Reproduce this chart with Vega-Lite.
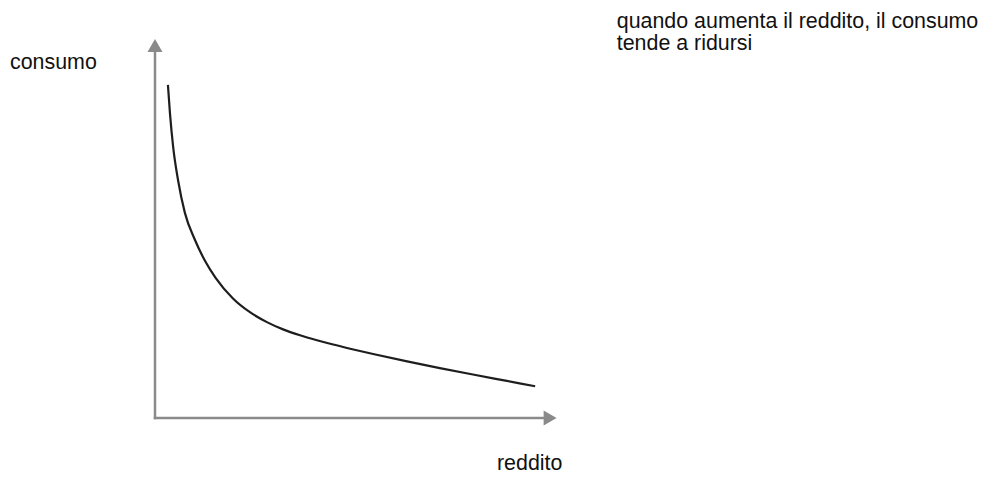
{
  "$schema": "https://vega.github.io/schema/vega-lite/v6.json",
  "width": 404,
  "height": 382,
  "autosize": {"type": "none"},
  "padding": {"left": 155, "top": 36, "right": 435, "bottom": 59},
  "background": "white",
  "config": {"view": {"stroke": null}},
  "layer": [
    {
      "data": {"values": [
        {"x": 0.32, "y": 8.72}, {"x": 0.37, "y": 7.98}, {"x": 0.45, "y": 7.09},
        {"x": 0.57, "y": 6.23}, {"x": 0.74, "y": 5.37}, {"x": 0.99, "y": 4.66},
        {"x": 1.24, "y": 4.11}, {"x": 1.5, "y": 3.67}, {"x": 1.93, "y": 3.13},
        {"x": 2.35, "y": 2.77}, {"x": 2.77, "y": 2.51}, {"x": 3.17, "y": 2.32},
        {"x": 3.59, "y": 2.165}, {"x": 4.01, "y": 2.035}, {"x": 4.41, "y": 1.923},
        {"x": 4.83, "y": 1.814}, {"x": 5.40, "y": 1.674}, {"x": 6.24, "y": 1.481},
        {"x": 7.05, "y": 1.307}, {"x": 7.87, "y": 1.139}, {"x": 8.71, "y": 0.971},
        {"x": 9.41, "y": 0.831}
      ]},
      "mark": {"type": "line", "interpolate": "monotone", "color": "#1e1e1e", "strokeWidth": 2.2},
      "encoding": {
        "x": {"field": "x", "type": "quantitative", "scale": {"domain": [0, 10]}, "axis": null},
        "y": {"field": "y", "type": "quantitative", "scale": {"domain": [0, 10]}, "axis": null}
      }
    },
    {
      "data": {"values": [
        {"x": 0, "x2": 9.65, "y": 0, "y2": 0},
        {"x": 0, "x2": 0, "y": 0, "y2": 9.61}
      ]},
      "mark": {"type": "rule", "color": "#8a8a8a", "strokeWidth": 2.5, "strokeCap": "square"},
      "encoding": {
        "x": {"field": "x", "type": "quantitative", "scale": {"domain": [0, 10]}, "axis": null},
        "x2": {"field": "x2"},
        "y": {"field": "y", "type": "quantitative", "scale": {"domain": [0, 10]}, "axis": null},
        "y2": {"field": "y2"}
      }
    },
    {
      "data": {"values": [
        {"x": 0, "y": 9.75, "shape": "triangle-up"},
        {"x": 9.78, "y": 0, "shape": "triangle-right"}
      ]},
      "mark": {"type": "point", "filled": true, "color": "#8a8a8a", "size": 225, "opacity": 1},
      "encoding": {
        "x": {"field": "x", "type": "quantitative", "scale": {"domain": [0, 10]}, "axis": null},
        "y": {"field": "y", "type": "quantitative", "scale": {"domain": [0, 10]}, "axis": null},
        "shape": {"field": "shape", "type": "nominal", "scale": null, "legend": null}
      }
    },
    {
      "data": {"values": [
        {"x": -3.589, "y": 9.136, "label": "consumo"},
        {"x": 8.465, "y": -1.361, "label": "reddito"},
        {"x": 11.43, "y": 10.21, "label": "quando aumenta il reddito, il consumo"},
        {"x": 11.43, "y": 9.63, "label": "tende a ridursi"}
      ]},
      "mark": {"type": "text", "align": "left", "baseline": "alphabetic", "font": "Liberation Sans, Arial, Helvetica, sans-serif", "fontSize": 21.4, "color": "#111111"},
      "encoding": {
        "x": {"field": "x", "type": "quantitative", "scale": {"domain": [0, 10]}, "axis": null},
        "y": {"field": "y", "type": "quantitative", "scale": {"domain": [0, 10]}, "axis": null},
        "text": {"field": "label"}
      }
    }
  ]
}
